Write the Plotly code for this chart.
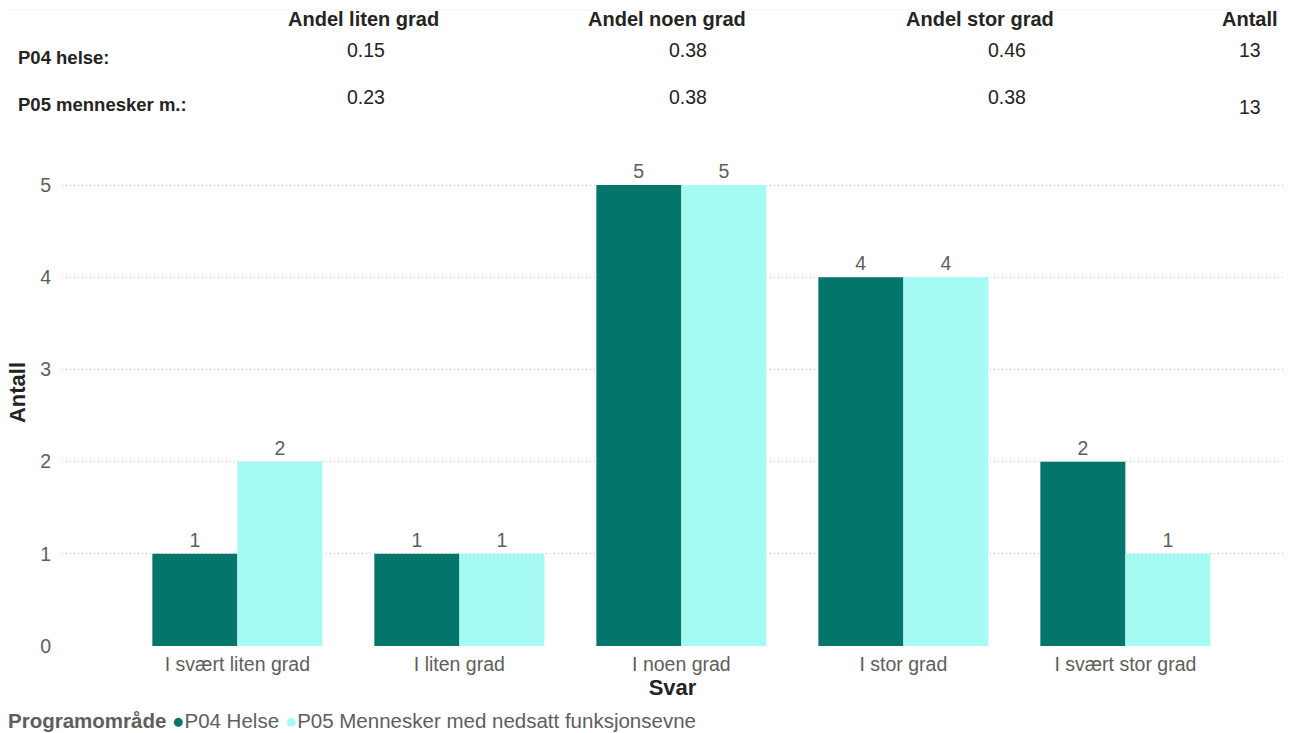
import plotly.graph_objects as go

categories = ["I svært liten grad", "I liten grad", "I noen grad", "I stor grad", "I svært stor grad"]
p04_values = [1, 1, 5, 4, 2]
p05_values = [2, 1, 5, 4, 1]
series_names = ["P04 Helse", "P05 Mennesker med nedsatt funksjonsevne"]
colors = ["#03756B", "#A6FAF4"]
legend_title = "Programområde"

table_headers = ["Andel liten grad", "Andel noen grad", "Andel stor grad", "Antall"]
row_labels = ["P04 helse:", "P05 mennesker m.:"]
row_p04 = ["0.15", "0.38", "0.46", "13"]
row_p05 = ["0.23", "0.38", "0.38", "13"]

W, H = 1289, 733
L, R, T, B = 62, 6, 139, 87
pw = W - L - R
ph = H - T - B
FONT = "Liberation Sans, Arial"


def px(x):
    return (x - L) / pw


def py(y):
    return (H - B - y) / ph


fig = go.Figure()
for name, vals, col in zip(series_names, [p04_values, p05_values], colors):
    fig.add_trace(go.Bar(
        x=categories, y=vals, name=name, marker_color=col, marker_line_width=0,
        text=[str(v) for v in vals], textposition="outside", cliponaxis=False,
        textfont=dict(family=FONT, size=19.5, color="#605E5C"),
        showlegend=False,
    ))

annots = []
hdr_x = [363, 667, 980, 1250]
val_x = [366, 688, 1007, 1250]
for h, x in zip(table_headers, hdr_x):
    annots.append(dict(text=f"<b>{h}</b>", x=px(x), y=py(19), xref="paper", yref="paper",
                       showarrow=False, xanchor="center", yanchor="middle",
                       font=dict(family=FONT, size=20, color="#252423")))
for lab, y in zip(row_labels, [57, 104]):
    annots.append(dict(text=f"<b>{lab}</b>", x=px(16), y=py(y), xref="paper", yref="paper",
                       showarrow=False, xanchor="left", yanchor="middle",
                       font=dict(family=FONT, size=18.5, color="#252423")))
for v, x in zip(row_p04, val_x):
    annots.append(dict(text=v, x=px(x), y=py(50), xref="paper", yref="paper",
                       showarrow=False, xanchor="center", yanchor="middle",
                       font=dict(family=FONT, size=19.5, color="#252423")))
for i, (v, x) in enumerate(zip(row_p05, val_x)):
    yy = 107 if i == 3 else 97
    annots.append(dict(text=v, x=px(x), y=py(yy), xref="paper", yref="paper",
                       showarrow=False, xanchor="center", yanchor="middle",
                       font=dict(family=FONT, size=19.5, color="#252423")))

legend_text = f"<b>{legend_title}</b> " + " ".join(
    f"<span style='color:{c}'>●</span>{n}" for n, c in zip(series_names, colors))
annots.append(dict(text=legend_text, x=px(6), y=py(720), xref="paper", yref="paper",
                   showarrow=False, xanchor="left", yanchor="middle",
                   font=dict(family=FONT, size=20.5, color="#605E5C")))

fig.update_layout(
    width=W, height=H,
    margin=dict(l=L, r=R, t=T, b=B, autoexpand=False),
    paper_bgcolor="white", plot_bgcolor="white",
    barmode="group", bargap=0.234, bargroupgap=0,
    showlegend=False,
    font=dict(family=FONT, color="#605E5C"),
    annotations=annots,
    shapes=[dict(type="line", xref="paper", yref="paper", x0=px(8), x1=px(1281), y0=py(10), y1=py(10),
                 line=dict(color="#F2F2F2", width=1))],
    xaxis=dict(
        range=[-0.79, 4.71], showgrid=False, zeroline=False, showline=False,
        ticks="", tickfont=dict(size=19.5, color="#605E5C"), ticklabelstandoff=4,
        title=dict(text="<b>Svar</b>", font=dict(size=22, color="#252423"), standoff=6),
    ),
    yaxis=dict(
        range=[0, 5.5], tickvals=[0, 1, 2, 3, 4, 5], showgrid=True,
        gridcolor="#C8C6C4", griddash="1px,3px", gridwidth=1, zeroline=False,
        ticks="", tickfont=dict(size=19.5, color="#605E5C"), ticklabelstandoff=10,
        title=dict(text="<b>Antall</b>", font=dict(size=22, color="#252423"), standoff=8),
    ),
)

fig.write_html("out.html")
